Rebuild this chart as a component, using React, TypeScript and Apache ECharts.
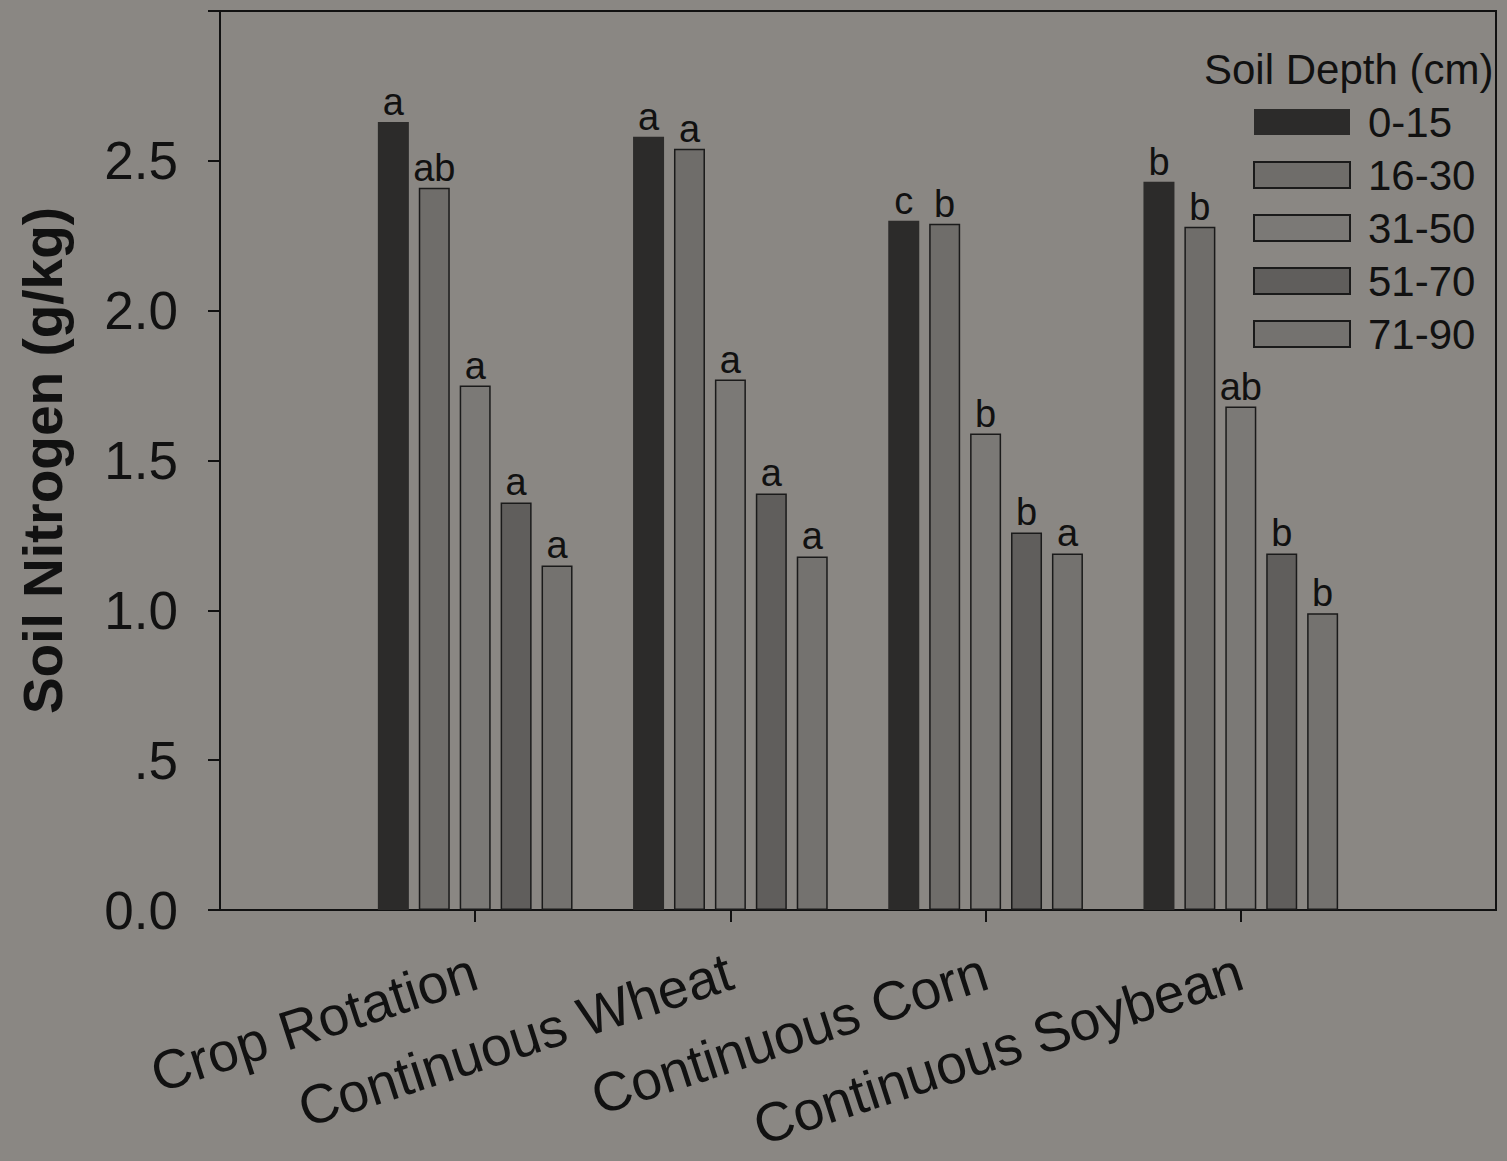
import React, { useEffect, useRef } from "react";
import * as echarts from "echarts";

const categories = ["Crop Rotation", "Continuous Wheat", "Continuous Corn", "Continuous Soybean"];
const depthNames = ["0-15", "16-30", "31-50", "51-70", "71-90"];
const depth0_15 = [2.63, 2.58, 2.30, 2.43];
const depth16_30 = [2.41, 2.54, 2.29, 2.28];
const depth31_50 = [1.75, 1.77, 1.59, 1.68];
const depth51_70 = [1.36, 1.39, 1.26, 1.19];
const depth71_90 = [1.15, 1.18, 1.19, 0.99];
const letters0_15 = ["a", "a", "c", "b"];
const letters16_30 = ["ab", "a", "b", "b"];
const letters31_50 = ["a", "a", "b", "ab"];
const letters51_70 = ["a", "a", "b", "b"];
const letters71_90 = ["a", "a", "a", "b"];
const yTickLabels: Record<string, string> = { "0": "0.0", "0.5": ".5", "1": "1.0", "1.5": "1.5", "2": "2.0", "2.5": "2.5", "3": "" };

const colors = ["#2c2b2a", "#6f6d6a", "#7b7976", "#605e5c", "#74726f"];
const FONT = "'Liberation Sans', Arial, Helvetica, sans-serif";

export default function App() {
  const ref = useRef<HTMLDivElement>(null);
  useEffect(() => {
    if (!ref.current) return;
    const chart = echarts.init(ref.current, undefined, { renderer: "svg" });
    const values = [depth0_15, depth16_30, depth31_50, depth51_70, depth71_90];
    const letters = [letters0_15, letters16_30, letters31_50, letters51_70, letters71_90];
    const axisData = ["", ...categories, ""];
    const series = depthNames.map((name, si) => ({
      name,
      type: "bar",
      barWidth: 31,
      barGap: "32%",
      data: [null, ...values[si].map((v, i) => ({ value: v, letter: letters[si][i] })), null],
      itemStyle: {
        color: colors[si],
        borderColor: "#1a1a1a",
        borderWidth: si === 0 ? 0 : 1.5,
      },
      label: {
        show: true,
        position: "top",
        distance: 1,
        fontFamily: FONT,
        fontSize: 38,
        color: "#111",
        formatter: (p: any) => (p.data && p.data.letter) || "",
      },
    }));
    chart.setOption({
      animation: false,
      backgroundColor: "#8a8783",
      textStyle: { fontFamily: FONT },
      grid: {
        left: 220,
        top: 11,
        right: 11,
        bottom: 251,
        outerBoundsMode: "none",
        containLabel: false,
        show: true,
        borderColor: "#111",
        borderWidth: 2,
        backgroundColor: "transparent",
      },
      title: {
        text: "Soil Depth (cm)",
        left: 1199,
        top: 43,
        textStyle: { fontFamily: FONT, fontSize: 42, fontWeight: "normal", color: "#111" },
      },
      legend: {
        orient: "vertical",
        left: 1248,
        top: 96,
        itemWidth: 96,
        itemHeight: 26,
        itemGap: 11,
        icon: "rect",
        textStyle: { fontFamily: FONT, fontSize: 42, color: "#111", padding: [0, 0, 0, 13] },
        data: depthNames,
      },
      xAxis: {
        type: "category",
        data: axisData,
        boundaryGap: false,
        axisLine: { lineStyle: { color: "#111", width: 2 } },
        axisTick: {
          show: true,
          length: 12,
          inside: false,
          lineStyle: { color: "#111", width: 2 },
          interval: (index: number) => index >= 1 && index <= 4,
        },
        axisLabel: {
          interval: 0,
          rotate: 18,
          margin: 60,
          fontFamily: FONT,
          fontSize: 55,
          color: "#111",
        },
        splitLine: { show: false },
      },
      yAxis: {
        type: "value",
        min: 0,
        max: 3,
        interval: 0.5,
        name: "Soil Nitrogen (g/kg)",
        nameLocation: "middle",
        nameRotate: 90,
        nameGap: 150,
        nameTextStyle: { fontFamily: FONT, fontSize: 55, fontWeight: "bold", color: "#111" },
        axisLine: { show: true, lineStyle: { color: "#111", width: 2 } },
        axisTick: { show: true, length: 12, lineStyle: { color: "#111", width: 2 } },
        axisLabel: {
          margin: 42,
          fontFamily: FONT,
          fontSize: 53,
          color: "#111",
          formatter: (v: number) => yTickLabels[String(v)] ?? String(v),
        },
        splitLine: { show: false },
      },
      series,
    });
    return () => chart.dispose();
  }, []);
  return (
    <div
      ref={ref}
      style={{ position: "absolute", left: 0, top: 0, width: 1507, height: 1161 }}
    />
  );
}
